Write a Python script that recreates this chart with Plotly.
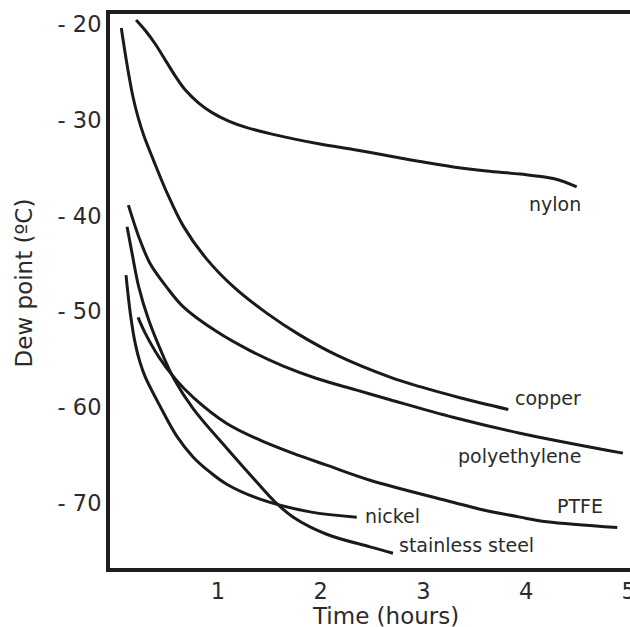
import plotly.graph_objects as go

# ---- data (time in hours, dew point in degC) ----
nylon_x = [0.202, 0.292, 0.389, 0.487, 0.584, 0.682, 0.812, 0.942, 1.104, 1.266, 1.526, 1.993, 2.317, 2.643, 2.967, 3.291, 3.616, 3.941, 4.265, 4.493]
nylon_y = [-19.53, -20.63, -22.04, -23.72, -25.39, -26.85, -28.21, -29.21, -30.10, -30.73, -31.46, -32.5, -33.07, -33.70, -34.32, -34.89, -35.32, -35.64, -36.11, -36.97]

copper_x = [0.058, 0.097, 0.133, 0.172, 0.221, 0.279, 0.367, 0.500, 0.662, 0.890, 1.149, 1.474, 1.798, 2.156, 2.675, 2.967, 3.356, 3.827]
copper_y = [-20.37, -23.09, -25.39, -27.58, -29.68, -31.66, -34.07, -37.52, -41.08, -44.53, -47.41, -50.18, -52.48, -54.57, -56.87, -57.87, -59.02, -60.25]

poly_x = [0.127, 0.240, 0.338, 0.500, 0.662, 0.987, 1.312, 1.636, 1.961, 2.351, 2.675, 3.288, 3.941, 4.943]
poly_y = [-38.88, -42.54, -44.98, -47.46, -49.52, -52.11, -54.10, -55.72, -57.01, -58.23, -59.23, -61.06, -62.73, -64.82]

ptfe_x = [0.221, 0.292, 0.423, 0.586, 0.766, 1.085, 1.409, 1.733, 2.058, 2.480, 3.288, 3.551, 3.941, 4.201, 4.888]
ptfe_y = [-50.63, -52.30, -54.75, -57.08, -59.07, -61.72, -63.46, -64.85, -66.08, -67.65, -69.95, -70.68, -71.51, -71.99, -72.59]

nickel_x = [0.104, 0.146, 0.195, 0.240, 0.292, 0.435, 0.598, 0.759, 0.922, 1.085, 1.409, 1.896, 2.351]
nickel_y = [-46.2, -50.21, -53.42, -55.30, -56.87, -59.90, -63.04, -65.24, -66.81, -68.07, -69.63, -70.96, -71.52]

steel_x = [0.114, 0.163, 0.228, 0.325, 0.455, 0.569, 0.761, 1.085, 1.409, 1.538, 1.733, 2.058, 2.480, 2.704]
steel_y = [-41.15, -43.93, -47.43, -50.91, -54.39, -57.01, -60.22, -64.30, -68.22, -69.74, -71.52, -73.30, -74.62, -75.28]

series_names = ["nylon", "copper", "polyethylene", "PTFE", "nickel", "stainless steel"]
label_x = [4.286, 4.218, 3.936, 4.525, 2.699, 3.42]
label_y = [-38.72, -59.01, -65.13, -70.36, -71.35, -74.39]

x_ticks = [1, 2, 3, 4, 5]
x_tick_text = ["1", "2", "3", "4", "5"]
y_ticks = [-20, -30, -40, -50, -60, -70]
y_tick_text = ["- 20", "- 30", "- 40", "- 50", "- 60", "- 70"]

FONT = "DejaVu Sans"
TXT = "#2b2b2b"
LINE = "#1a1a1a"

fig = go.Figure()
for name, xs, ys in zip(series_names,
                        [nylon_x, copper_x, poly_x, ptfe_x, nickel_x, steel_x],
                        [nylon_y, copper_y, poly_y, ptfe_y, nickel_y, steel_y]):
    fig.add_trace(go.Scatter(x=xs, y=ys, mode="lines", name=name,
                             line=dict(color=LINE, width=3, shape="spline", smoothing=1.0),
                             showlegend=False, hoverinfo="skip"))

for name, lx, ly in zip(series_names, label_x, label_y):
    fig.add_annotation(x=lx, y=ly, text=name, showarrow=False,
                       xanchor="center", yanchor="middle",
                       font=dict(family=FONT, size=19, color=TXT))

fig.add_annotation(xref="paper", yref="paper", x=0.529, y=-0.087, text="Time (hours)",
                   showarrow=False, xanchor="center", yanchor="middle",
                   font=dict(family=FONT, size=23, color=TXT))
fig.add_annotation(xref="paper", yref="paper", x=-0.165, y=0.514, text="Dew point (ºC)",
                   showarrow=False, xanchor="center", yanchor="middle", textangle=-90,
                   font=dict(family=FONT, size=23, color=TXT))

fig.update_layout(
    width=630, height=627,
    margin=dict(l=110, r=0, t=14, b=59, autoexpand=False),
    plot_bgcolor="white", paper_bgcolor="white",
    xaxis=dict(range=[-0.052, 5.012], tickvals=x_ticks, ticktext=x_tick_text,
               automargin=False,
               showgrid=False, zeroline=False, showline=True, mirror=True,
               linecolor="#1e1e1e", linewidth=4, ticks="",
               ticklabelstandoff=0, ticklabeloverflow="allow",
               tickfont=dict(family=FONT, size=22.5, color=TXT)),
    yaxis=dict(range=[-76.83, -18.9], tickvals=y_ticks, ticktext=y_tick_text,
               automargin=False,
               showgrid=False, zeroline=False, showline=True, mirror=False,
               linecolor="#1e1e1e", linewidth=4, ticks="",
               ticklabelstandoff=0,
               tickfont=dict(family=FONT, size=22.5, color=TXT)),
)

fig.write_html(
    "out.html",
    config={"displayModeBar": False, "staticPlot": True},
    post_script=(
        "document.documentElement.style.margin='0';"
        "document.documentElement.style.padding='0';"
        "document.documentElement.style.overflow='hidden';"
        "document.body.style.margin='0';"
        "document.body.style.padding='0';"
        "document.body.style.overflow='hidden';"
    ),
)
